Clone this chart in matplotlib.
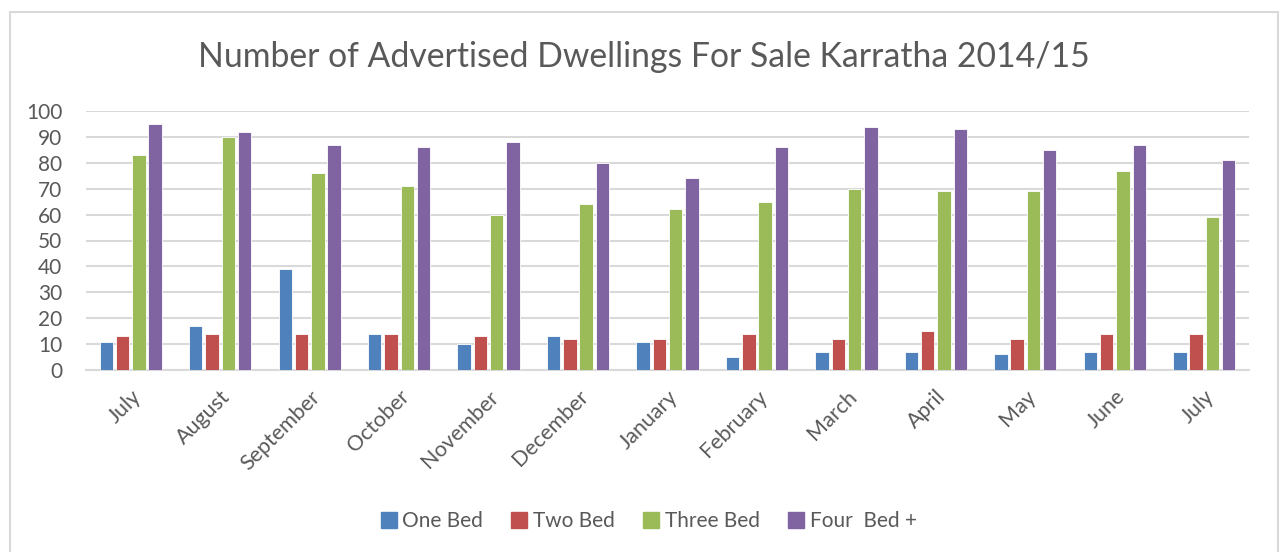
import numpy as np
import matplotlib.pyplot as plt
from matplotlib.patches import Rectangle
from matplotlib.lines import Line2D

plt.rcParams['font.family'] = ['Lato', 'DejaVu Sans']

months = ['July', 'August', 'September', 'October', 'November', 'December',
          'January', 'February', 'March', 'April', 'May', 'June', 'July']
one_bed = [11, 17, 39, 14, 10, 13, 11, 5, 7, 7, 6, 7, 7]
two_bed = [13, 14, 14, 14, 13, 12, 12, 14, 12, 15, 12, 14, 14]
three_bed = [83, 90, 76, 71, 60, 64, 62, 65, 70, 69, 69, 77, 59]
four_bed = [95, 92, 87, 86, 88, 80, 74, 86, 94, 93, 85, 87, 81]

series = [('One Bed', one_bed, '#4F81BD'),
          ('Two Bed', two_bed, '#C0504D'),
          ('Three Bed', three_bed, '#9BBB59'),
          ('Four  Bed +', four_bed, '#8064A2')]

txt = '#595959'

fig = plt.figure(figsize=(12.84, 5.52), dpi=100)
ax = fig.add_axes([86 / 1284, 1 - 370 / 552, (1249 - 86) / 1284, (370 - 111) / 552])

x = np.arange(len(months))
step = 0.182
for i, (name, vals, col) in enumerate(series):
    ax.bar(x + (i - 1.5) * step, vals, width=0.15, color=col,
           edgecolor='white', linewidth=0.6, zorder=3)

ax.set_xlim(-0.5, len(months) - 0.5)
ax.set_ylim(0, 100)
ax.set_yticks(range(0, 101, 10))
ax.yaxis.grid(True, color='#D9D9D9', linewidth=1.5, zorder=0)
ax.tick_params(axis='y', length=0, labelsize=15, labelcolor=txt, pad=17)
ax.set_xticks(x)
ax.set_xticklabels(months, rotation=45, ha='right', rotation_mode='anchor')
ax.tick_params(axis='x', length=0, labelsize=15.5, labelcolor=txt, pad=12)
for s in ['top', 'right', 'left']:
    ax.spines[s].set_visible(False)
ax.spines['bottom'].set_color('#D9D9D9')
ax.spines['bottom'].set_linewidth(1.5)

fig.text(0.5015, 1 - 57 / 552, 'Number of Advertised Dwellings For Sale Karratha 2014/15',
         ha='center', va='center', fontsize=24.3, color=txt)

handles = [Line2D([], [], marker='s', linestyle='none', markersize=11,
                  markerfacecolor=c, markeredgecolor=c) for _, _, c in series]
fig.legend(handles, [n for n, _, _ in series], loc='center', ncol=4,
           bbox_to_anchor=(648 / 1284, 1 - 521 / 552), frameon=False,
           fontsize=15, labelcolor=txt, handletextpad=0.2, columnspacing=1.3,
           handlelength=0.9)

fig.patches.append(Rectangle((10 / 1284, -0.05), (1278 - 10) / 1284, 1.05 - 12 / 552,
                             transform=fig.transFigure, fill=False,
                             edgecolor='#D9D9D9', linewidth=1.5))

fig.savefig('out.png', dpi=100)
